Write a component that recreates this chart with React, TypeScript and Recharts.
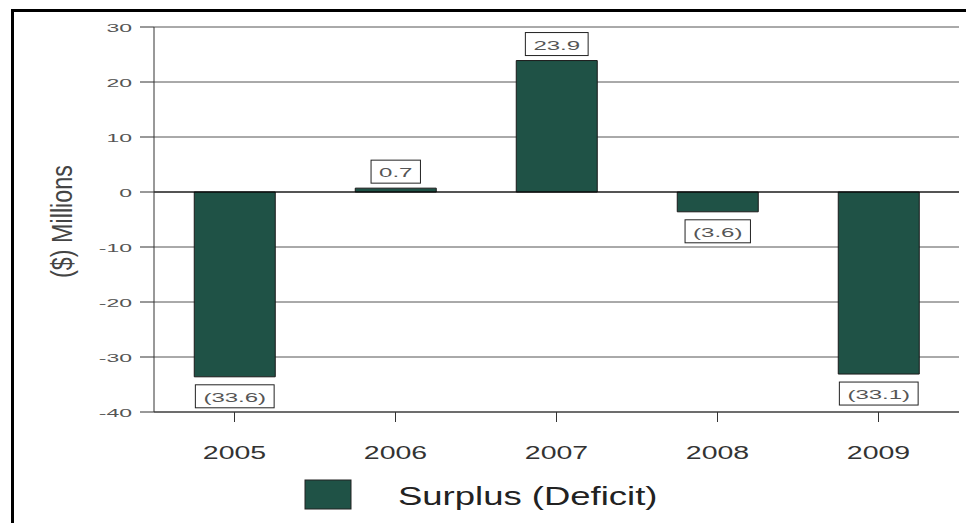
import React from 'react';
import { BarChart, Bar, XAxis, YAxis, CartesianGrid, LabelList, Legend, ReferenceLine } from 'recharts';

const years = ['2005', '2006', '2007', '2008', '2009'];
const surplus = [-33.6, 0.7, 23.9, -3.6, -33.1];
const yTicks = [-40, -30, -20, -10, 0, 10, 20, 30];
const seriesName = 'Surplus (Deficit)';
const yLabel = '($) Millions';

const data = years.map((y, i) => ({ year: y, value: surplus[i] }));

const FONT = '"Liberation Sans", Arial, Helvetica, sans-serif';
const BAR = '#1f5246';

const CW: Record<string, number> = {
  '0': 0.556, '1': 0.556, '2': 0.556, '3': 0.556, '4': 0.556, '5': 0.556,
  '6': 0.556, '7': 0.556, '8': 0.556, '9': 0.556, '.': 0.278, '(': 0.333, ')': 0.333, '-': 0.333,
};
const textW = (s: string, size: number, sx: number) =>
  s.split('').reduce((a, c) => a + (CW[c] ?? 0.556), 0) * size * sx;

function SText({ x, y, sx, size, anchor = 'start', fill = '#222', children }: any) {
  return (
    <text
      transform={`translate(${x},${y}) scale(${sx},1)`}
      x={0}
      y={0}
      textAnchor={anchor}
      fontSize={size}
      fontFamily={FONT}
      fill={fill}
    >
      {children}
    </text>
  );
}

const fmt = (v: number) => (v < 0 ? `(${Math.abs(v).toFixed(1)})` : v.toFixed(1));

function ValueBox(props: any) {
  const { x, y, width, height, value } = props;
  const v = Number(value);
  const cx = Number(x) + Number(width) / 2;
  const top = Math.min(Number(y), Number(y) + Number(height));
  const bottom = Math.max(Number(y), Number(y) + Number(height));
  const s = fmt(v);
  const size = 13.5;
  const sx = 1.78;
  const w = textW(s, size, sx) + 16;
  const h = 23;
  const by = v >= 0 ? top - 5 - h : bottom + 8;
  return (
    <g>
      <rect x={cx - w / 2} y={by} width={w} height={h} fill="#fff" stroke="#222" strokeWidth={1} />
      <SText x={cx} y={by + h / 2 + 5.5} sx={sx} size={size} anchor="middle" fill="#555">
        {s}
      </SText>
    </g>
  );
}

function YTick(props: any) {
  const { x, y, payload } = props;
  return (
    <SText x={x} y={y + 4.5} sx={2.0} size={11.5} anchor="end" fill="#555">
      {payload.value}
    </SText>
  );
}

function XTick(props: any) {
  const { x, y, payload } = props;
  return (
    <SText x={x} y={y + 37} sx={1.5} size={19} anchor="middle" fill="#333">
      {payload.value}
    </SText>
  );
}

function YLabel() {
  return (
    <text
      transform="translate(72,221.5) scale(1.5,1) rotate(-90)"
      x={0}
      y={0}
      textAnchor="middle"
      fontSize={20}
      fontFamily={FONT}
      fill="#444"
      textLength={113}
      lengthAdjust="spacingAndGlyphs"
    >
      {yLabel}
    </text>
  );
}

function LegendContent(props: any) {
  const item = (props.payload && props.payload[0]) || { value: seriesName, color: BAR };
  return (
    <svg width={966} height={50} style={{ display: 'block' }}>
      <rect x={305} y={15} width={46} height={29} fill={BAR} stroke="#222" strokeWidth={1} />
      <SText x={398} y={40} sx={1.46} size={25} fill="#222">
        {item.value}
      </SText>
    </svg>
  );
}

export default function App() {
  return (
    <div style={{ position: 'absolute', left: 0, top: 0, width: 966, height: 523, background: '#fff' }}>
      <BarChart
        width={966}
        height={523}
        data={data}
        margin={{ top: 27, right: 7, left: 0, bottom: 71 }}
        barCategoryGap="25%"
      >
        <CartesianGrid vertical={false} stroke="#555" strokeWidth={1} />
        <XAxis
          dataKey="year"
          height={40}
          tickSize={10}
          tickMargin={0}
          tick={<XTick />}
          axisLine={{ stroke: '#333' }}
          tickLine={{ stroke: '#333' }}
        />
        <YAxis
          width={154}
          domain={[-40, 30]}
          ticks={yTicks}
          interval={0}
          tickSize={14}
          tickMargin={8}
          tick={<YTick />}
          axisLine={{ stroke: '#333' }}
          tickLine={{ stroke: '#333' }}
          label={<YLabel />}
        />
        <ReferenceLine y={0} stroke="#000" strokeWidth={1} />
        <Bar dataKey="value" name={seriesName} fill={BAR} stroke="#1a1a1a" strokeWidth={1} isAnimationActive={false}>
          <LabelList dataKey="value" content={<ValueBox />} />
        </Bar>
        <Legend
          layout="vertical"
          align="center"
          verticalAlign="middle"
          content={<LegendContent />}
          wrapperStyle={{ left: 0, top: 465, width: 966, height: 50 }}
        />
      </BarChart>
      <div
        style={{
          position: 'absolute',
          left: 11,
          top: 9,
          width: 955,
          height: 514,
          borderTop: '3px solid #000',
          borderLeft: '3px solid #000',
          boxSizing: 'border-box',
          pointerEvents: 'none',
        }}
      />
    </div>
  );
}
